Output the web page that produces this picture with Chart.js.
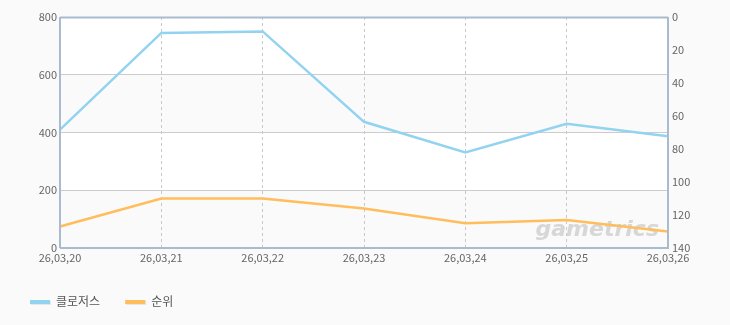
<!DOCTYPE html>
<html><head><meta charset="utf-8">
<script src="https://cdn.jsdelivr.net/npm/chart.js@4/dist/chart.umd.min.js"></script>
<style>html,body{margin:0;padding:0;background:#fafafa;}#wrap{width:730px;height:325px;}</style>
</head><body><div id="wrap"><canvas id="c" width="730" height="325"></canvas></div>
<script>
const categories = ['26,03,20','26,03,21','26,03,22','26,03,23','26,03,24','26,03,25','26,03,26'];
const closersValues = [410, 745, 750, 437, 331, 430, 387];
const rankValues = [127, 110, 110, 116, 125, 123, 130];
const leftTicks = [0, 200, 400, 600, 800];
const rightTicks = [0, 20, 40, 60, 80, 100, 120, 140];
const seriesNames = ['클로저스', '순위'];
const seriesColors = ['#92d3f0', '#ffbd5c'];
const FONT = "'Noto Sans CJK KR', 'DejaVu Sans', sans-serif";
const AXIS = '#a9bccf';

const bgPlugin = {
  id: 'bg',
  beforeDraw(chart) {
    const {ctx, chartArea: a, scales} = chart;
    ctx.save();
    ctx.fillStyle = '#fafafa';
    ctx.fillRect(0, 0, chart.width, chart.height);
    ctx.fillStyle = '#ffffff';
    ctx.fillRect(a.left, a.top, a.right - a.left, a.bottom - a.top);
    ctx.fillStyle = '#fafafa';
    const y = scales.y;
    [[400, 600], [0, 200]].forEach(([lo, hi]) => {
      const t = y.getPixelForValue(hi), b = y.getPixelForValue(lo);
      ctx.fillRect(a.left, t, a.right - a.left, b - t);
    });
    // watermark
    ctx.font = "italic bold 22px 'DejaVu Sans', sans-serif";
    ctx.fillStyle = 'rgba(200,200,200,0.7)';
    ctx.textAlign = 'right';
    ctx.textBaseline = 'alphabetic';
    ctx.fillText('gametrics', a.right - 9, a.bottom - 12);
    ctx.restore();
  },
  afterDatasetsDraw(chart) {
    const {ctx, chartArea: a} = chart;
    ctx.save();
    ctx.strokeStyle = AXIS;
    ctx.lineWidth = 2;
    ctx.beginPath();
    ctx.moveTo(a.left, a.top + 0.5); ctx.lineTo(a.right, a.top + 0.5);
    ctx.moveTo(a.right, a.top); ctx.lineTo(a.right, a.bottom);
    ctx.moveTo(a.left, a.top); ctx.lineTo(a.left, a.bottom);
    ctx.moveTo(a.left, a.bottom); ctx.lineTo(a.right + 1, a.bottom);
    ctx.stroke();
    // legend
    ctx.font = '12px ' + FONT;
    ctx.textBaseline = 'middle';
    ctx.textAlign = 'left';
    let x = 30;
    const ly = 301;
    seriesNames.forEach((n, i) => {
      ctx.fillStyle = 'rgba(0,0,0,0.08)';
      ctx.fillRect(x + 1, ly, 20, 4);
      ctx.fillStyle = seriesColors[i];
      ctx.fillRect(x, ly - 1, 20, 4);
      ctx.fillStyle = '#555';
      ctx.fillText(n, x + 26, ly);
      x += 26 + ctx.measureText(n).width + 25;
    });
    ctx.restore();
  }
};

new Chart(document.getElementById('c'), {
  type: 'line',
  data: {
    labels: categories,
    datasets: [
      {label: seriesNames[0], data: closersValues, yAxisID: 'y', borderColor: seriesColors[0], backgroundColor: seriesColors[0], borderWidth: 2.5, pointRadius: 0, tension: 0},
      {label: seriesNames[1], data: rankValues, yAxisID: 'y1', borderColor: seriesColors[1], backgroundColor: seriesColors[1], borderWidth: 2.5, pointRadius: 0, tension: 0}
    ]
  },
  options: {
    responsive: false,
    animation: false,
    layout: {padding: {top: 17, bottom: 56, left: 0, right: 0}},
    plugins: {legend: {display: false}, tooltip: {enabled: false}},
    scales: {
      x: {
        offset: false,
        grid: {color: '#c8c8c8', drawTicks: false, lineWidth: 1},
        border: {display: false, dash: [3, 3]},
        ticks: {autoSkip: false, maxRotation: 0, padding: 3, color: '#666', font: {family: FONT, size: 11}},
        afterFit(s) { s.height = 21; }
      },
      y: {
        position: 'left', min: 0, max: 800,
        afterBuildTicks(s) { s.ticks = leftTicks.map(v => ({value: v})); },
        grid: {color: '#cccccc', drawTicks: false},
        border: {display: false},
        ticks: {padding: 3, color: '#666', font: {family: FONT, size: 11}},
        afterFit(s) { s.width = 60; }
      },
      y1: {
        position: 'right', min: 0, max: 140, reverse: true,
        afterBuildTicks(s) { s.ticks = rightTicks.map(v => ({value: v})); },
        grid: {display: false, drawTicks: false},
        border: {display: false},
        ticks: {padding: 4, color: '#666', font: {family: FONT, size: 11}},
        afterFit(s) { s.width = 62; }
      }
    }
  },
  plugins: [bgPlugin]
});
</script></body></html>
